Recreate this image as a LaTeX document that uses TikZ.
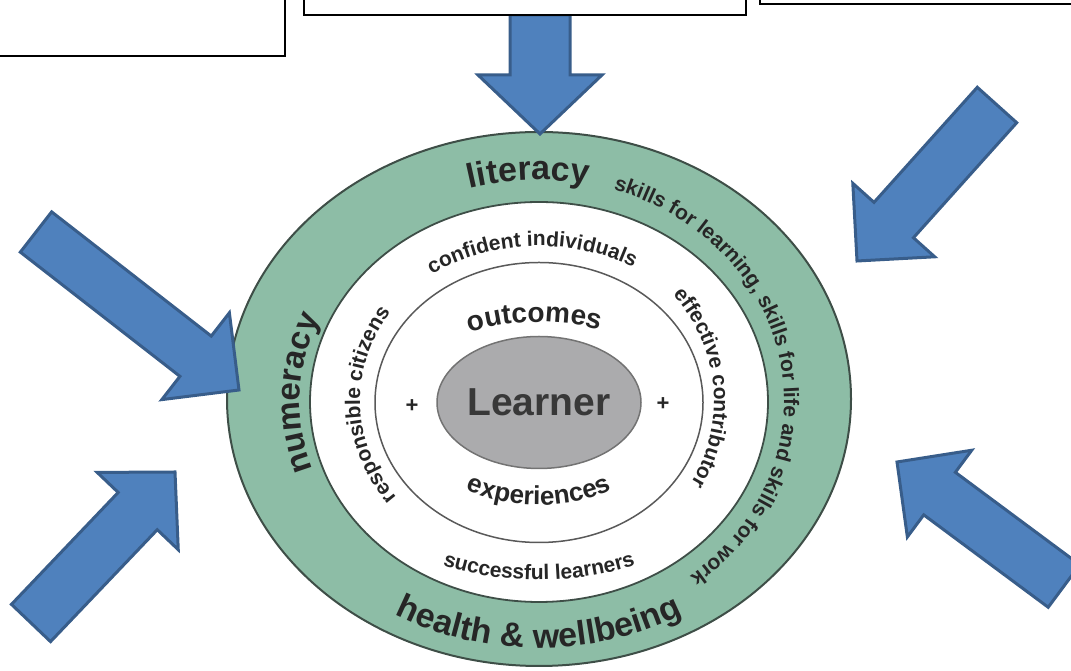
\documentclass[tikz,border=0pt]{standalone}
\usepackage{fontspec}
\setmainfont{Liberation Sans}
\usepackage{tikz}
\usetikzlibrary{
	calc,
	decorations.text,
	shapes.geometric
}
\definecolor{RingGreen}{HTML}{8DBDA6}
\definecolor{RingEdge}{HTML}{3E4E47}
\definecolor{ArrowBlue}{HTML}{4F81BD}
\definecolor{ArrowEdge}{HTML}{385D8A}
\definecolor{Ink}{HTML}{262626}
\definecolor{LearnerGrey}{HTML}{ABABAD}
\tikzset{
	bigarrow/.style={fill=ArrowBlue,draw=ArrowEdge,line width=3pt,line join=miter},
	topbox/.style={draw=black,fill=white,line width=2pt,inner sep=0pt},
	ringtext/.style={decorate,decoration={text along path,text align=center,text color=Ink,text={#1}}}
}
\newcommand{\ringFont}{\bfseries\fontsize{34}{40}\selectfont}
\newcommand{\bandFont}{\bfseries\fontsize{21}{25}\selectfont}
% tail, tip, shaft half width, head half width, head length
\newcommand{\blockArrow}[5]{%
	\coordinate (#2h) at ($(#2)!#5!(#1)$);
	\draw[bigarrow] ($(#1)!#3!90:(#2)$) -- ($(#2h)!#3!90:(#2)$) -- ($(#2h)!#4!90:(#2)$) -- (#2)
		-- ($(#2h)!#4!-90:(#2)$) -- ($(#2h)!#3!-90:(#2)$) -- ($(#1)!#3!-90:(#2)$) -- cycle;
}
% start angle, end angle, x radius, y radius, text
\newcommand{\arcText}[5]{%
	\path[ringtext={#5}] ($(O)+(#1:#3 and #4)$) arc[start angle=#1,end angle=#2,x radius=#3,y radius=#4];
}

\begin{document}
\begin{tikzpicture}[x=1pt,y=1pt]
	\useasboundingbox (0,0) rectangle (1071,671);
	\clip (0,0) rectangle (1071,671);
	\coordinate (O) at (539,270);
	
	% Rings
	\draw[fill=RingGreen,draw=RingEdge,line width=2pt] (539,272) ellipse [x radius=312pt,y radius=267pt];
	\draw[fill=white,draw=RingEdge,line width=1.8pt] (539,269) ellipse [x radius=229pt,y radius=200pt];
	\draw[draw=black!65,line width=1.5pt] (539,268.5) ellipse [x radius=164pt,y radius=140pt];
	\node[ellipse,fill=LearnerGrey,draw=black!55,line width=1.5pt,inner sep=0pt,minimum width=204pt,minimum height=132pt,
		text=black!78,font=\bfseries\fontsize{39}{44}\selectfont] (learner) at (539,268.5) {Learner};
	\node[text=Ink,font=\bfseries\fontsize{22}{24}\selectfont] (plusL) at (412,265) {+};
	\node[text=Ink,font=\bfseries\fontsize{22}{24}\selectfont] (plusR) at (663,267) {+};
	
	% Green ring
	\arcText{135}{50}{258pt}{221pt}{|\ringFont|literacy}
	\arcText{223}{133}{239pt}{208pt}{|\bfseries\fontsize{33}{38}\selectfont|numeracy}
	\arcText{235}{305}{287pt}{247pt}{|\ringFont|health {\&} wellbeing}
	\arcText{90}{-70}{245pt}{222pt}{|\bandFont|skills for learning, skills for life and skills for work}
	
	% White band
	\arcText{150}{35}{185pt}{155pt}{|\bandFont|confident individuals}
	\arcText{245}{118}{179pt}{159pt}{|\bandFont|responsible citizens}
	\arcText{70}{-60}{175pt}{165pt}{|\bandFont|effective contributor}
	\arcText{225}{315}{240pt}{179pt}{|\bandFont|successful learners}
	
	% Inner circle
	\arcText{150}{35}{140pt}{79pt}{|\bfseries\fontsize{28}{32}\selectfont|outcomes}
	\arcText{220}{320}{140pt}{104pt}{|\bfseries\fontsize{26}{30}\selectfont|experiences}
	
	% Arrows
	\coordinate (tTop) at (540,656);  \coordinate (pTop) at (540,537);
	\coordinate (tLU) at (36,439);    \coordinate (pLU) at (239,281);
	\coordinate (tLL) at (31,48);     \coordinate (pLL) at (175,199);
	\coordinate (tRU) at (997,566);   \coordinate (pRU) at (857,410);
	\coordinate (tRL) at (1064,85);   \coordinate (pRL) at (897,209);
	\blockArrow{tTop}{pTop}{30pt}{62pt}{59pt}
	\blockArrow{tLU}{pLU}{25.5pt}{55pt}{55pt}
	\blockArrow{tLL}{pLL}{27pt}{56pt}{54pt}
	\blockArrow{tRU}{pRU}{26.5pt}{55pt}{55pt}
	\blockArrow{tRL}{pRL}{26.5pt}{54pt}{53pt}
	
	% Boxes
	\node[topbox,minimum width=295pt,minimum height=66pt] (leftbox) at (137.5,648) {};
	\node[topbox,minimum width=442pt,minimum height=25pt] (midbox) at (525,668.5) {};
	\node[topbox,minimum width=320pt,minimum height=14pt] (rightbox) at (920,674) {};
\end{tikzpicture}
\end{document}
